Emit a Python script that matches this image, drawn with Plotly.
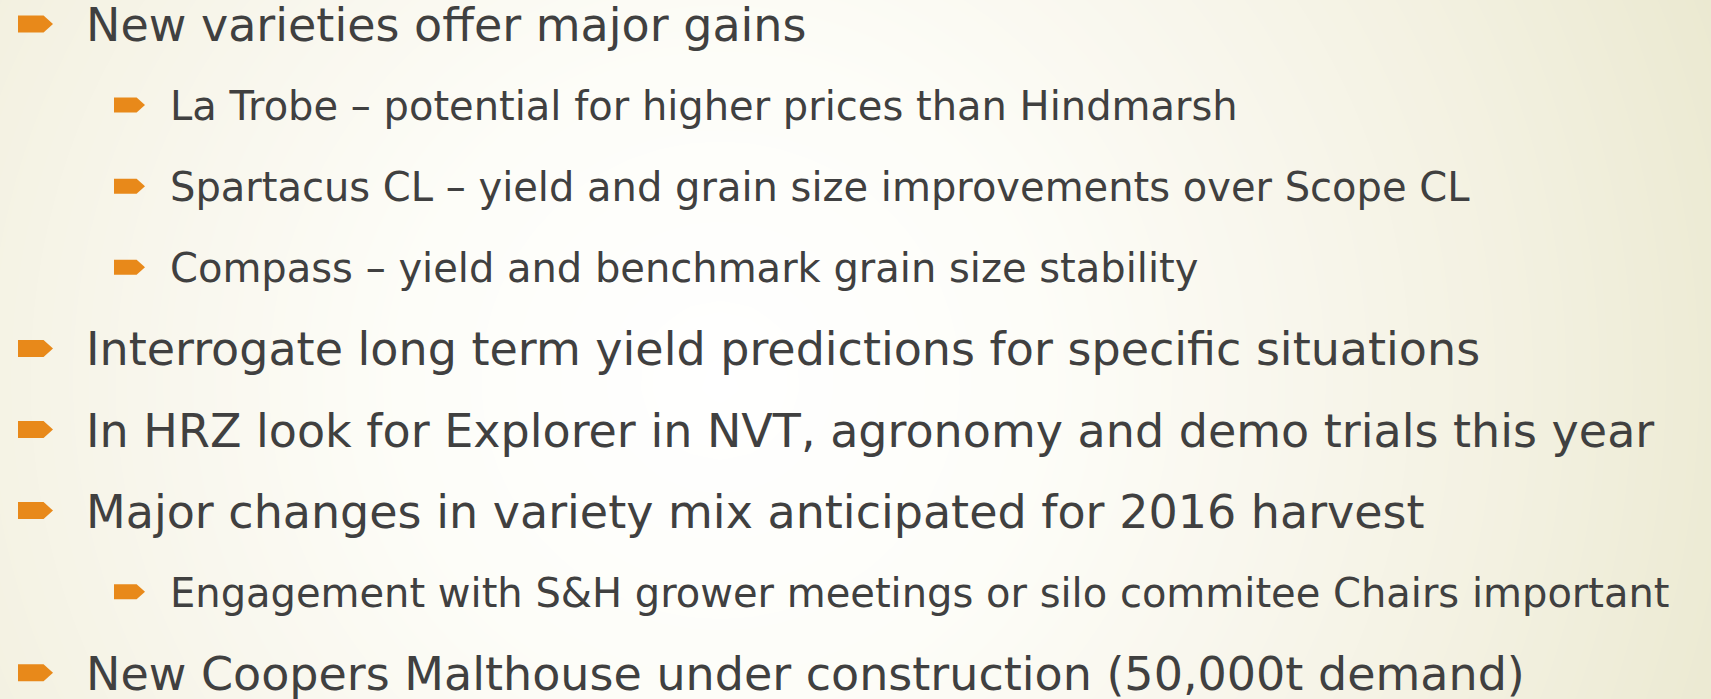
import numpy as np
import plotly.graph_objects as go

# slide content
lines = [
    "New varieties offer major gains",
    "La Trobe – potential for higher prices than Hindmarsh",
    "Spartacus CL – yield and grain size improvements over Scope CL",
    "Compass – yield and benchmark grain size stability",
    "Interrogate long term yield predictions for specific situations",
    "In HRZ look for Explorer in NVT, agronomy and demo trials this year",
    "Major changes in variety mix anticipated for 2016 harvest",
    "Engagement with S&H grower meetings or silo commitee Chairs important",
    "New Coopers Malthouse under construction (50,000t demand)",
]
levels = [1, 2, 2, 2, 1, 1, 1, 2, 1]

W, H = 1711, 699
TEXT = "#404040"
ORANGE = "#E8891A"
FONT = "DejaVu Sans"

fig = go.Figure()

# soft radial background, white in the middle fading to pale olive
gx = np.linspace(-30, W + 30, 60)
gy = np.linspace(-30, H + 30, 30)
X, Y = np.meshgrid(gx, gy)
dist = np.sqrt((X - 720) ** 2 + (Y - 380) ** 2)
dist = dist / np.sqrt((W - 720) ** 2 + 380 ** 2)
fig.add_trace(go.Heatmap(
    x=gx, y=gy, z=dist, zsmooth="best", showscale=False, hoverinfo="skip",
    zmin=0, zmax=1,
    colorscale=[[0, "#FFFFFF"], [0.3, "#FDFDF8"], [0.55, "#F8F6EC"],
                [0.75, "#F3F1E1"], [1, "#EBE9D1"]],
))

y0, step = 24, 81.1
# bullet x, text x, bullet w, bullet h, font size
indent = {1: (18, 85, 35, 17, 46), 2: (114, 169, 31, 15, 40)}

for i, (txt, lvl) in enumerate(zip(lines, levels)):
    yc = y0 + i * step
    bx, tx, bw, bh, fs = indent[lvl]
    tip = bw * 0.27
    # arrow-like pentagon bullet
    fig.add_trace(go.Scatter(
        x=[bx, bx + bw - tip, bx + bw, bx + bw - tip, bx, bx],
        y=[yc - bh / 2, yc - bh / 2, yc, yc + bh / 2, yc + bh / 2, yc - bh / 2],
        mode="lines", fill="toself", fillcolor=ORANGE,
        line=dict(width=0, color=ORANGE), hoverinfo="skip", showlegend=False,
    ))
    fig.add_annotation(
        x=tx, y=yc + 1, xref="x", yref="y", text=txt.replace("&", "&amp;"),
        showarrow=False, xanchor="left", yanchor="middle", borderpad=0,
        font=dict(family=FONT, size=fs, color=TEXT),
    )

fig.update_layout(
    width=W, height=H, margin=dict(l=0, r=0, t=0, b=0),
    paper_bgcolor="#FBFAF3", plot_bgcolor="#FBFAF3", showlegend=False,
    xaxis=dict(range=[0, W], visible=False, fixedrange=True),
    yaxis=dict(range=[H, 0], visible=False, fixedrange=True),
)

fig.write_html(
    "out.html",
    config={"displayModeBar": False},
    post_script="document.body.style.margin='0';document.body.style.overflow='hidden';",
)
